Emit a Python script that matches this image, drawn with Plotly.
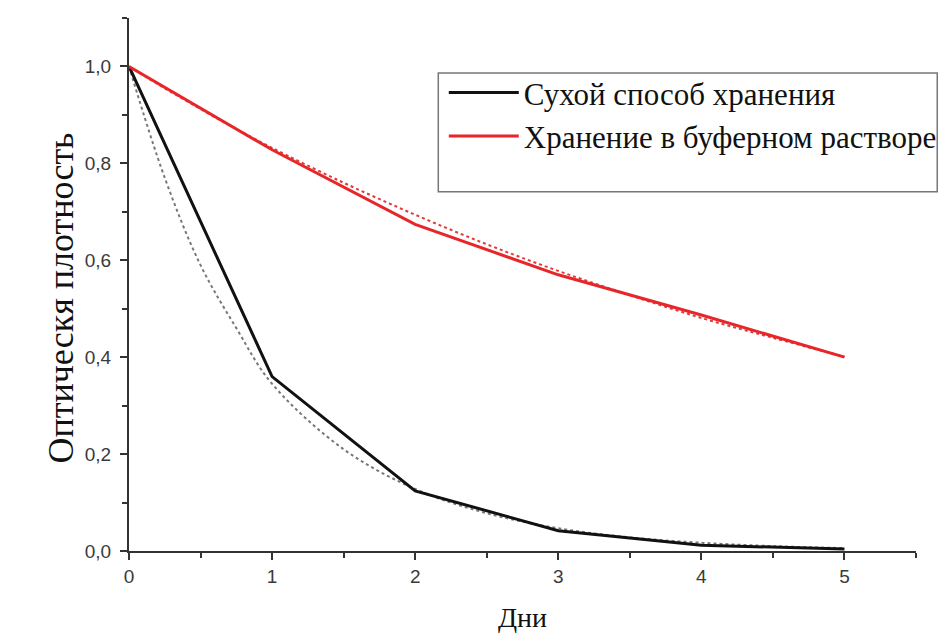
import plotly.graph_objects as go

days = [0, 1, 2, 3, 4, 5]
dry = [1.0, 0.36, 0.124, 0.042, 0.012, 0.004]
buffer = [1.0, 0.828, 0.674, 0.57, 0.487, 0.40]

fit_x = [0, 0.25, 0.5, 0.75, 1, 1.5, 2, 2.5, 3, 3.5, 4, 4.5, 5]
dry_fit = [1.0, 0.77, 0.59, 0.46, 0.345, 0.21, 0.128, 0.078, 0.047, 0.028, 0.017, 0.01, 0.006]
buffer_fit = [1.0, 0.955, 0.912, 0.871, 0.832, 0.76, 0.694, 0.633, 0.578, 0.528, 0.481, 0.44, 0.401]

y_ticks = [0, 0.2, 0.4, 0.6, 0.8, 1.0]
y_labels = ["0,0", "0,2", "0,4", "0,6", "0,8", "1,0"]
x_ticks = [0, 1, 2, 3, 4, 5]
x_labels = ["0", "1", "2", "3", "4", "5"]

legend_names = ["Сухой способ хранения", "Хранение в буферном растворе"]
y_title = "Оптическя плотность"
x_title = "Дни"

fig = go.Figure()
fig.add_trace(go.Scatter(x=fit_x, y=dry_fit, mode="lines", line=dict(color="#777777", width=2, dash="dot", shape="spline"),
                         showlegend=False, hoverinfo="skip"))
fig.add_trace(go.Scatter(x=fit_x, y=buffer_fit, mode="lines", line=dict(color="#e03a3a", width=2, dash="dot", shape="spline"),
                         showlegend=False, hoverinfo="skip"))
fig.add_trace(go.Scatter(x=days, y=dry, mode="lines", name=legend_names[0], line=dict(color="#111111", width=3)))
fig.add_trace(go.Scatter(x=days, y=buffer, mode="lines", name=legend_names[1], line=dict(color="#e8262a", width=3)))

axis_common = dict(showline=True, linecolor="#333333", linewidth=2, showgrid=False, zeroline=False,
                   ticks="outside", ticklen=7, tickwidth=2, tickcolor="#333333",
                   tickfont=dict(family="Liberation Sans, Arial, sans-serif", size=19, color="#3a3a3a"))

fig.update_xaxes(range=[0, 5.5], tickvals=x_ticks, ticktext=x_labels,
                 minor=dict(ticks="outside", ticklen=5, tickwidth=2, tickcolor="#333333", dtick=0.5, tick0=0),
                 **axis_common)
fig.update_yaxes(range=[0, 1.1], tickvals=y_ticks, ticktext=y_labels, ticklabelstandoff=5,
                 minor=dict(ticks="outside", ticklen=5, tickwidth=2, tickcolor="#333333", dtick=0.1, tick0=0),
                 **axis_common)

fig.add_shape(type="rect", xref="paper", yref="paper", x0=0.393, x1=1.027, y0=0.674, y1=0.897,
              line=dict(color="#777777", width=1.5), fillcolor="rgba(0,0,0,0)")

fig.add_annotation(text=y_title, xref="paper", yref="paper", x=-0.087, y=0.4747, xanchor="center", yanchor="middle",
                   textangle=-90, showarrow=False,
                   font=dict(family="Liberation Serif, Times New Roman, serif", size=36, color="#111111"))
fig.add_annotation(text=x_title, xref="paper", yref="paper", x=0.5006, y=-0.1257, xanchor="center", yanchor="middle",
                   showarrow=False,
                   font=dict(family="Liberation Serif, Times New Roman, serif", size=28, color="#111111"))

fig.update_layout(
    width=949, height=633,
    margin=dict(l=129, r=33, t=18, b=82, autoexpand=False),
    plot_bgcolor="white", paper_bgcolor="white",
    legend=dict(x=0.40, y=0.91, xanchor="left", yanchor="top", bgcolor="rgba(0,0,0,0)",
                borderwidth=0, font=dict(family="Liberation Serif, Times New Roman, serif", size=31, color="#111111"),
                tracegroupgap=0, itemwidth=70),
)

fig.write_html("out.html")
